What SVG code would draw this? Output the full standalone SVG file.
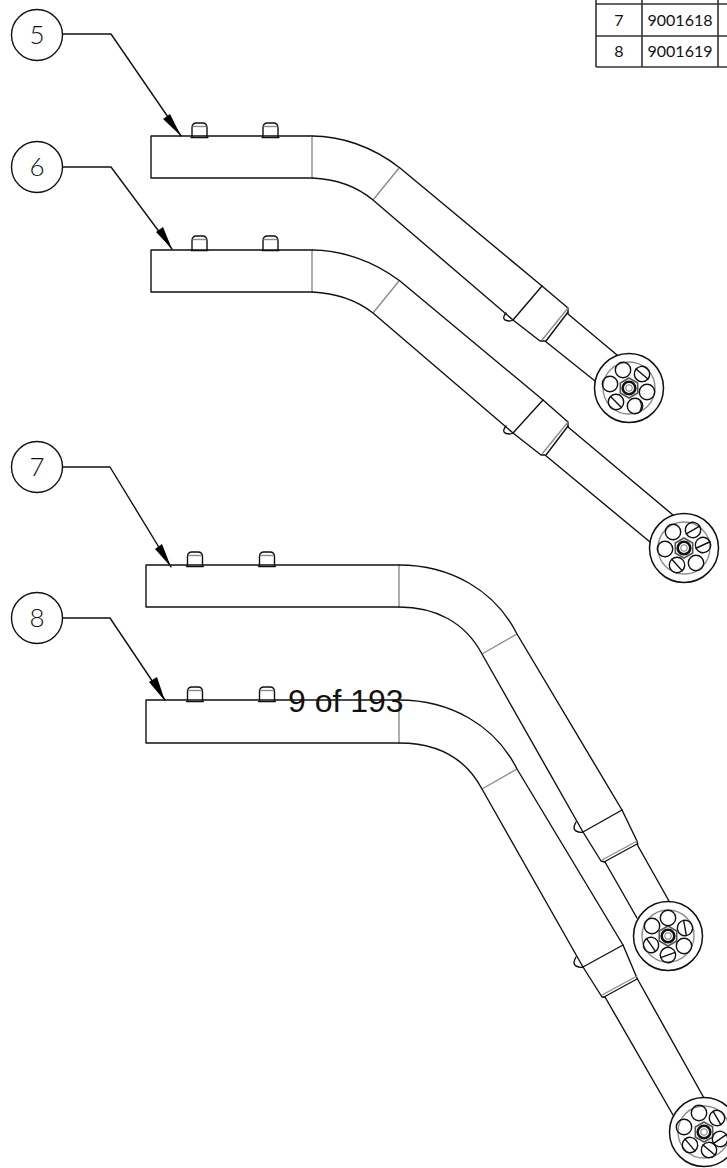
<svg xmlns="http://www.w3.org/2000/svg" width="727" height="1168" viewBox="0 0 727 1168">
<style>
.k{fill:none;stroke:#111;stroke-width:1.4;stroke-linejoin:round;stroke-linecap:round}
.g{fill:none;stroke:#8c8c8c;stroke-width:1.4}
.t{font-family:"Lato","Liberation Sans",sans-serif;fill:#111;text-anchor:middle}
.b{font-size:26px;font-weight:300}
.c{font-size:16px}
.ah{fill:#000;stroke:none}
</style>
<defs>
<g id="peg"><path class="k" d="M-7.5 14V5Q-7.5 0-3 0H3Q7.5 0 7.5 5V14"/><path class="k" d="M-8.5 14.6H8.5"/><path class="g" d="M-7 3.5H7"/></g>
<circle id="hole" class="k" r="7.7"/>
<g id="slot"><circle class="k" r="7.7"/><path class="k" d="M-7.7 0H7.7"/></g>
<g id="hub"><circle cx="0" cy="0" r="34.5" fill="#fff" stroke="#111" stroke-width="1.5"/><circle class="g" r="26"/>
<polygon fill="#fff" stroke="#555" stroke-width="1.6" points="0,-10 8.7,-5 8.7,5 0,10 -8.7,5 -8.7,-5"/><circle r="6.3" fill="none" stroke="#111" stroke-width="2.6"/><circle r="3.3" fill="#fff" stroke="#555" stroke-width=".8"/></g>
</defs>
<g id="table">
<path fill="none" stroke="#333" stroke-width="1.6" d="M596 0V67M642 0V67M718 0V67M596 4H727M596 36H727M596 67H727"/>
<text class="t c" x="619" y="26">7</text><text class="t c" x="680" y="26">9001618</text>
<text class="t c" x="619" y="57">8</text><text class="t c" x="680" y="57">9001619</text>
</g>
<g id="balloon5"><circle class="k" cx="37" cy="35" r="25.5"/><text class="t b" x="37" y="44">5</text></g>
<g id="balloon6"><circle class="k" cx="37" cy="167" r="25.5"/><text class="t b" x="37" y="176">6</text></g>
<g id="balloon7"><circle class="k" cx="37" cy="467" r="25.5"/><text class="t b" x="37" y="476">7</text></g>
<g id="balloon8"><circle class="k" cx="37" cy="618" r="25.5"/><text class="t b" x="37" y="627">8</text></g>
<g id="part5">
<path class="k" d="M312 136H151V178H312"/><path class="g" d="M312 136V178M373 200L399 168"/>
<path class="k" d="M312 136C340 136 372 146 400 168L542 286L568 308L568 314L617 355"/>
<path class="k" d="M312 178C335 179 355 185 373 200L513 320L540 341L545 341L595 381"/>
<path class="k" d="M542 286L513 320M506 313Q502 318 505 320Q510 322 513 320"/>
<path class="g" d="M568 308L542 340"/><path class="k" d="M568 312L546 341"/>
<use href="#peg" x="199.5" y="123"/><use href="#peg" x="270.5" y="123"/>
</g>
<g id="wheel5" transform="translate(629 388)">
<use href="#hub"/>
<use href="#hole" x="-6" y="-18"/><use href="#slot" transform="translate(13 -14) rotate(40)"/><use href="#hole" x="18" y="4"/><use href="#hole" x="6" y="18"/><path class="k" d="M11 13Q14 18 11 23"/><use href="#slot" transform="translate(-13 14) rotate(45)"/><use href="#hole" x="-19" y="-4"/>
</g>
<g id="part6">
<path class="k" d="M312 250H151V292H312"/><path class="g" d="M312 250V292M373 313L399 281"/>
<path class="k" d="M312 250C340 250 372 260 400 281L543 400L568 422L568 427L673 515"/>
<path class="k" d="M312 292C335 293 355 299 373 313L513 433L541 455L545 455L650 542"/>
<path class="k" d="M543 400L513 433M506 426Q502 431 505 433Q510 435 513 433"/>
<path class="g" d="M568 422L542 454"/><path class="k" d="M568 426L546 455"/>
<use href="#peg" x="199.5" y="236"/><use href="#peg" x="270.5" y="236"/>
</g>
<g id="wheel6" transform="translate(684 548)">
<use href="#hub"/>
<use href="#hole" x="-11" y="-16"/><use href="#slot" transform="translate(9 -18) rotate(-30)"/><use href="#slot" transform="translate(19 -3) rotate(-25)"/><use href="#hole" x="12" y="15"/><use href="#slot" transform="translate(-7 17) rotate(48)"/><use href="#hole" x="-19" y="1"/>
</g>
<g id="part7">
<path class="k" d="M399 565H146V607H399"/><path class="g" d="M399 565V607M482 654L517 634"/>
<path class="k" d="M399 565C450 565 495 590 517 634L622 810L637 841L638 846L669 901"/>
<path class="k" d="M399 607C435 607 465 622 482 654L583 832L601 861L605 862L637 918"/>
<path class="k" d="M622 810L583 832M576 822Q572 829 576 831Q580 833 583 832"/>
<path class="g" d="M637 841L602 860"/><path class="k" d="M637 844L604 862"/>
<use href="#peg" x="195" y="552"/><use href="#peg" x="267" y="552"/>
</g>
<g id="wheel7" transform="translate(668 936)">
<use href="#hub"/>
<use href="#hole" x="0" y="-18"/><use href="#slot" transform="translate(17 -8) rotate(80)"/><use href="#hole" x="16" y="10"/><use href="#slot" transform="translate(0 19) rotate(-20)"/><use href="#slot" transform="translate(-17 9) rotate(55)"/><use href="#hole" x="-16" y="-10"/>
</g>
<g id="part8">
<path class="k" d="M399 700H146V743H399"/><path class="g" d="M399 700V743M482 789L517 769"/>
<path class="k" d="M399 700C450 700 495 725 517 769L623 945L637 978L638 980L704 1098"/>
<path class="k" d="M399 743C435 743 465 757 482 789L583 967L602 997L605 997L673 1115"/>
<path class="k" d="M623 945L583 967M576 957Q572 964 576 966Q580 968 583 967"/>
<path class="g" d="M637 976L602 995"/><path class="k" d="M637 979L604 997"/>
<use href="#peg" x="195" y="687"/><use href="#peg" x="267" y="687"/>
</g>
<g id="wheel8" transform="translate(704 1132)">
<use href="#hub"/>
<use href="#hole" x="-5" y="-19"/><use href="#slot" transform="translate(13 -14) rotate(60)"/><use href="#slot" transform="translate(16 7) rotate(-35)"/><use href="#slot" transform="translate(5 18) rotate(40)"/><use href="#slot" transform="translate(-14 13) rotate(50)"/><use href="#hole" x="-20" y="-5"/>
</g>
<g id="connectors">
<path class="k" d="M63 34H111L181 136"/><polygon class="ah" points="181,136 163,119 170,114"/>
<path class="k" d="M63 167H111L172 249"/><polygon class="ah" points="172,249 156,232 163,227"/>
<path class="k" d="M63 467H110L171 567"/><polygon class="ah" points="171,567 155,549 162,544"/>
<path class="k" d="M63 618H110L165 700"/><polygon class="ah" points="165,701 149,682 157,677"/>
</g>
<text id="page" x="288" y="712" font-family="Liberation Sans, Arial, sans-serif" font-size="32" fill="#111">9 of 193</text>
</svg>
